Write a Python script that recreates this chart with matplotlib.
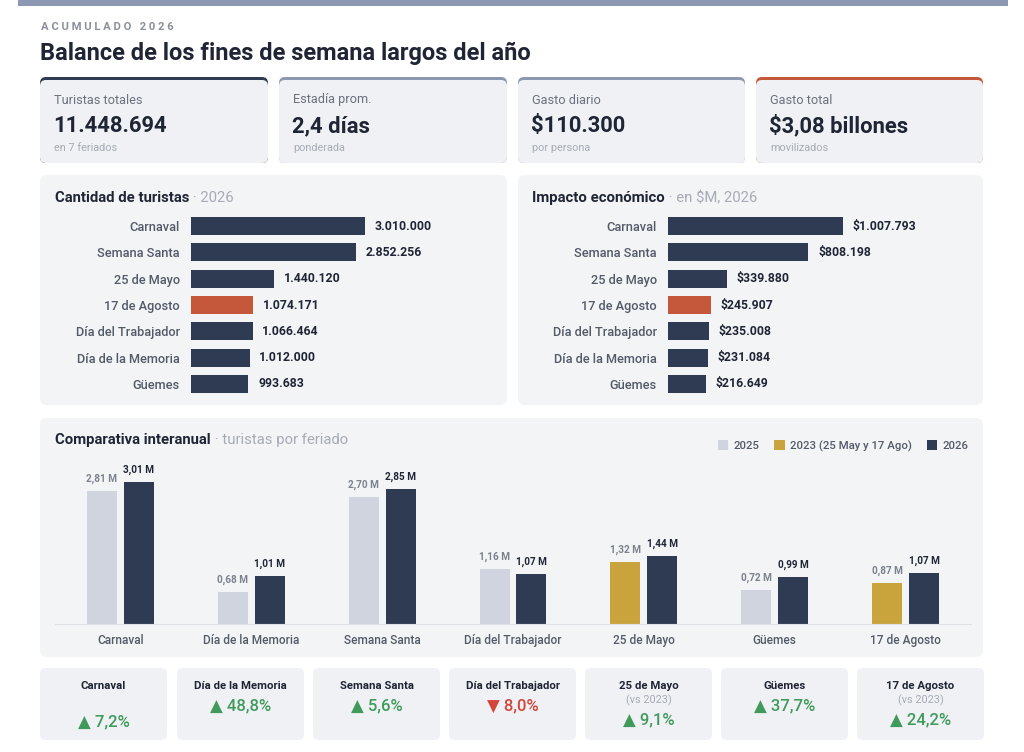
import numpy as np
import matplotlib
matplotlib.use("Agg")
import matplotlib.pyplot as plt
from matplotlib.patches import FancyBboxPatch, Rectangle, Patch

# ---------------- data ----------------
feriados = ["Carnaval", "Día de la Memoria", "Semana Santa", "Día del Trabajador",
            "25 de Mayo", "Güemes", "17 de Agosto"]
turistas_2026 = [3010000, 1012000, 2852256, 1066464, 1440120, 993683, 1074171]
impacto_2026 = [1007793, 231084, 808198, 235008, 339880, 216649, 245907]  # en $M
turistas_prev = [2810000, 680000, 2700000, 1160000, 1320000, 720000, 870000]
anio_prev = [2025, 2025, 2025, 2025, 2023, 2025, 2023]
variacion = [7.2, 48.8, 5.6, -8.0, 9.1, 37.7, 24.2]
destacado = "17 de Agosto"

serie_names = ["2025", "2023 (25 May y 17 Ago)", "2026"]

kpi_labels = ["Turistas totales", "Estadía prom.", "Gasto diario", "Gasto total"]
kpi_values = ["11.448.694", "2,4 días", "$110.300", "$3,08 billones"]
kpi_subs = ["en 7 feriados", "ponderada", "por persona", "movilizados"]

# ---------------- style ----------------
W, H = 1024, 752
FONT = ['Roboto', 'DejaVu Sans']
plt.rcParams['font.family'] = FONT
NAVY = '#2e3b52'
ORANGE = '#c5573a'
LIGHT = '#cfd4de'
GOLD = '#c9a43c'
DARK = '#1f2535'
GRAY = '#535a68'
LGRAY = '#a6abb5'
GREEN = '#3f9a5c'
RED = '#d2463b'
PANEL = '#f3f4f6'
CARD = '#eff1f4'
kpi_top = [NAVY, '#8c98b0', '#8c98b0', ORANGE]


def fmt_int(v):
    return f"{v:,}".replace(",", ".")


def fmt_m(v):
    return f"{v/1e6:.2f} M".replace(".", ",")


def axpos(x0, y0, x1, y1):
    return [x0 / W, 1 - y1 / H, (x1 - x0) / W, (y1 - y0) / H]


fig = plt.figure(figsize=(10.24, 7.52), dpi=100)
fig.patch.set_facecolor('white')
bg = fig.add_axes([0, 0, 1, 1])
bg.set_xlim(0, W)
bg.set_ylim(H, 0)
bg.axis('off')


def rbox(x0, y0, x1, y1, color, r=6, z=1):
    bg.add_patch(FancyBboxPatch((x0 + r, y0 + r), (x1 - x0 - 2 * r), (y1 - y0 - 2 * r),
                                boxstyle=f"round,pad={r}", fc=color, ec='none', zorder=z))


# top bar
bg.add_patch(Rectangle((18, 0), 990, 6, fc='#8c98b2', ec='none'))

# header
bg.text(41, 27, "A C U M U L A D O   2 0 2 6", fontsize=8.1, fontweight='bold',
        color='#8a8f99', va='center', ha='left')
bg.text(40, 53, "Balance de los fines de semana largos del año", fontsize=17,
        fontweight='bold', color=DARK, va='center', ha='left')

# KPI cards
kpi_x = [(40, 268), (279, 507), (518, 745), (756, 983)]
for (x0, x1), lab, val, sub, col in zip(kpi_x, kpi_labels, kpi_values, kpi_subs, kpi_top):
    rbox(x0, 77, x1, 163, col, r=6, z=1)
    rbox(x0, 80, x1, 163, CARD, r=6, z=2)
    bg.text(x0 + 14, 100, lab, fontsize=9.2, color='#6b717d', va='center', zorder=3)
    bg.text(x0 + 13, 126, val, fontsize=15.8, fontweight='bold', color=DARK,
            va='center', zorder=3)
    bg.text(x0 + 14, 148, sub, fontsize=7.8, color=LGRAY, va='center', zorder=3)

# panels
rbox(40, 175, 507, 405, PANEL, r=7)
rbox(518, 175, 983, 405, PANEL, r=7)
rbox(40, 418, 983, 657, PANEL, r=7)


def two_tone(x, y, bold, light):
    t = bg.text(x, y, bold, fontsize=10.7, fontweight='bold', color=DARK, va='center', zorder=3)
    bg.annotate(light, xy=(1, 0.5), xycoords=t, va='center', ha='left',
                fontsize=10.7, color=LGRAY, zorder=3)


two_tone(55, 198, "Cantidad de turistas", " · 2026")
two_tone(532, 198, "Impacto económico", " · en $M, 2026")
two_tone(55, 440, "Comparativa interanual", " · turistas por feriado")


def hbar(ax_rect, values, fmt, px_max_bar, px_axes):
    order = sorted(range(len(values)), key=lambda i: -values[i])
    names = [feriados[i] for i in order]
    vals = [values[i] for i in order]
    cols = [ORANGE if n == destacado else NAVY for n in names]
    ax = fig.add_axes(axpos(*ax_rect))
    ax.patch.set_alpha(0)
    y = np.arange(len(vals))
    bars = ax.barh(y, vals, height=0.68, color=cols)
    ax.set_ylim(len(vals) - 0.5, -0.5)
    ax.set_xlim(0, max(vals) * px_axes / px_max_bar)
    ax.set_yticks(y)
    ax.set_yticklabels(names, fontsize=9.2, color=GRAY, fontweight='medium')
    ax.tick_params(axis='y', length=0, pad=8)
    ax.set_xticks([])
    for s in ax.spines.values():
        s.set_visible(False)
    ax.bar_label(bars, labels=[fmt(v) for v in vals], padding=7, fontsize=8.8,
                 fontweight='bold', color=DARK)
    return ax


hbar((191, 213, 491, 397), turistas_2026, fmt_int, 174, 300)
hbar((668, 213, 968, 397), impacto_2026, lambda v: "$" + fmt_int(v), 175, 300)

# grouped column chart
ax3 = fig.add_axes(axpos(55, 455, 971, 624))
ax3.patch.set_alpha(0)
x = np.arange(len(feriados))
prev_cols = [GOLD if a == 2023 else LIGHT for a in anio_prev]
b1 = ax3.bar(x - 0.141, turistas_prev, width=0.23, color=prev_cols)
b2 = ax3.bar(x + 0.141, turistas_2026, width=0.23, color=NAVY)
ax3.set_xlim(-0.5, len(feriados) - 0.5)
ax3.set_ylim(0, max(turistas_2026) * 169 / 142)
ax3.set_xticks(x)
ax3.set_xticklabels(feriados, fontsize=8.6, color=GRAY, fontweight='medium')
ax3.tick_params(axis='x', length=0, pad=7)
ax3.set_yticks([])
for k, s in ax3.spines.items():
    s.set_visible(k == 'bottom')
ax3.spines['bottom'].set_color('#dfe2e7')
ax3.bar_label(b1, labels=[fmt_m(v) for v in turistas_prev], padding=5, fontsize=7.2,
              fontweight='bold', color='#7b818d')
ax3.bar_label(b2, labels=[fmt_m(v) for v in turistas_2026], padding=5, fontsize=7.2,
              fontweight='bold', color=DARK)

handles = [Patch(facecolor=LIGHT), Patch(facecolor=GOLD), Patch(facecolor=NAVY)]
fig.legend(handles, serie_names, loc='upper right', bbox_to_anchor=(979 / W, 1 - 430 / H),
           ncol=3, frameon=False, handlelength=0.9, handleheight=0.9,
           handletextpad=0.5, columnspacing=1.3, labelcolor=GRAY,
           prop={'weight': 'medium', 'size': 8.2})

# bottom variation cards
card_x0 = [40, 177, 313, 449, 585, 721, 857]
for i, (name, var, anio) in enumerate(zip(feriados, variacion, anio_prev)):
    x0 = card_x0[i]
    x1 = x0 + 127
    cx = (x0 + x1) / 2
    rbox(x0, 668, x1, 740, CARD, r=6)
    bg.text(cx, 686, name, fontsize=8.2, fontweight='bold', color=DARK, ha='center',
            va='center', zorder=3)
    up = var >= 0
    s = ("▲ " if up else "▼ ") + f"{abs(var):.1f}%".replace(".", ",")
    if anio == 2023:
        bg.text(cx, 700, "(vs 2023)", fontsize=7.8, color=LGRAY, ha='center', va='center', zorder=3)
        yv = 720
    elif i == 0:
        yv = 722
    else:
        yv = 706
    bg.text(cx, yv, s, fontsize=12, fontweight='medium', color=GREEN if up else RED,
            ha='center', va='center', zorder=3)

fig.savefig("out.png", dpi=100, facecolor='white')
